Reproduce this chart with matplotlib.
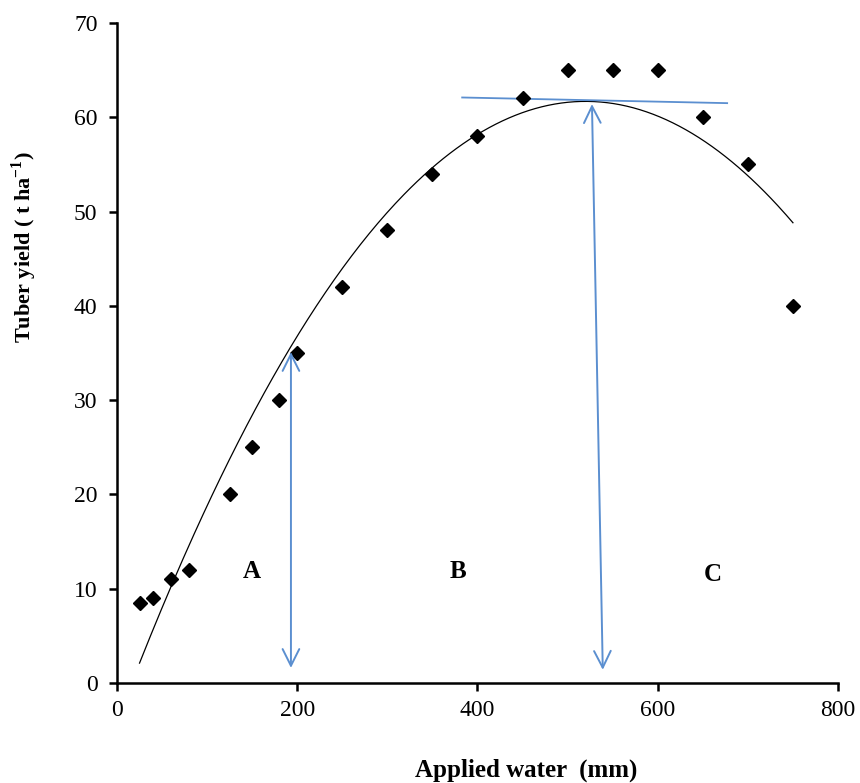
import numpy as np
import matplotlib
matplotlib.use("Agg")
import matplotlib.pyplot as plt

# Data
applied_water = [25, 40, 60, 80, 125, 150, 180, 200, 250, 300, 350, 400, 450, 500, 550, 600, 650, 700, 750]
tuber_yield = [8.5, 9, 11, 12, 20, 25, 30, 35, 42, 48, 54, 58, 62, 65, 65, 65, 60, 55, 40]

# Quadratic trendline coefficients (c2, c1, c0) and its range
trend_coeffs = [-2.432e-4, 0.2529, -4.06]
trend_range = [25, 750]

# Annotation geometry (data coordinates)
tangent_x = [383, 677]
tangent_y = [62.1, 61.5]
arrow1 = [(193, 1.6), (193, 35.1)]
arrow2 = [(539, 1.4), (527, 61.4)]
zone_labels = ["A", "B", "C"]
zone_x = [150, 378, 661]
zone_y = [11.8, 11.8, 11.5]

x_ticks = [0, 200, 400, 600, 800]
y_ticks = [0, 10, 20, 30, 40, 50, 60, 70]

plt.rcParams['font.family'] = ['Liberation Serif', 'DejaVu Serif']
plt.rcParams['mathtext.fontset'] = 'custom'
plt.rcParams['mathtext.rm'] = 'Liberation Serif'
plt.rcParams['mathtext.bf'] = 'Liberation Serif:bold'

blue = '#5b8fd0'

fig = plt.figure(figsize=(8.6, 7.83), dpi=100)
ax = fig.add_axes([117/860, 1-683/783, (838-117)/860, (683-23)/783])

xs = np.linspace(trend_range[0], trend_range[1], 300)
ax.plot(xs, np.polyval(trend_coeffs, xs), color='black', lw=0.9, zorder=2)

ax.plot(applied_water, tuber_yield, linestyle='none', marker='D', color='black',
        markersize=7, zorder=3)

ax.plot(tangent_x, tangent_y, color=blue, lw=1.3, zorder=2)

for (p0, p1) in (arrow1, arrow2):
    ax.annotate('', xy=p1, xytext=p0,
                arrowprops=dict(arrowstyle='<->,head_length=0.6,head_width=0.3',
                                color=blue, lw=1.4, mutation_scale=20,
                                shrinkA=0, shrinkB=0))

for lab, lx, ly in zip(zone_labels, zone_x, zone_y):
    ax.text(lx, ly, lab, fontsize=18, fontweight='bold', ha='center', va='center')

ax.set_xlim(0, 800)
ax.set_ylim(0, 70)
ax.set_xticks(x_ticks)
ax.set_yticks(y_ticks)
ax.tick_params(axis='both', direction='out', length=6, width=1.8, labelsize=17)
ax.tick_params(axis='y', pad=8)
ax.tick_params(axis='x', pad=6)
for s in ['top', 'right']:
    ax.spines[s].set_visible(False)
for s in ['left', 'bottom']:
    ax.spines[s].set_linewidth(1.8)

fig.text(526/860, 1-770/783, 'Applied water  (mm)', fontsize=18, fontweight='bold',
         ha='center', va='center')
fig.text(24/860, 1-247/783, r'Tuber yield ( t ha$^{\mathbf{-1}}$)', fontsize=16,
         fontweight='bold', rotation=90, ha='center', va='center')

fig.savefig('out.png', dpi=100)
